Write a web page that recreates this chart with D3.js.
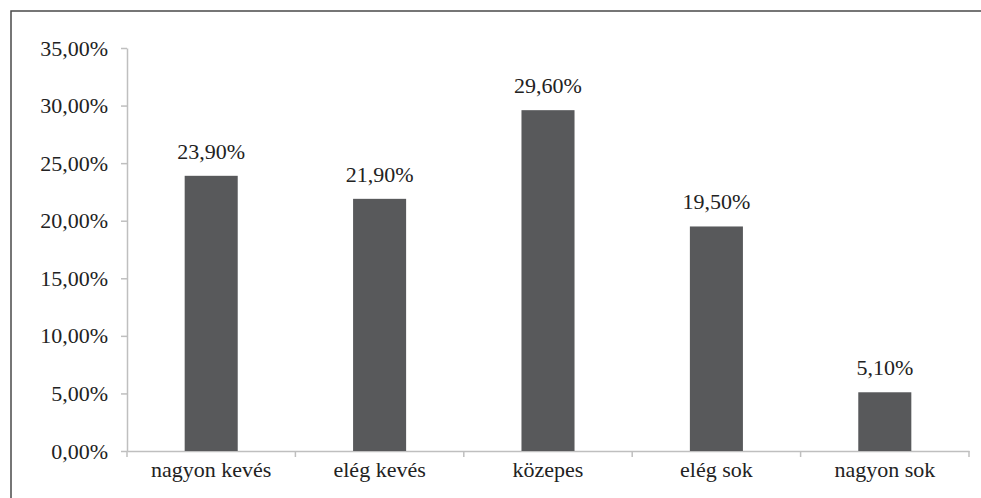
<!DOCTYPE html>
<html>
<head>
<meta charset="utf-8">
<script src="https://cdn.jsdelivr.net/npm/d3@7"></script>
</head>
<body style="margin:0">
<div class="chart"></div>
<script>
var categories = ['nagyon kevés', 'elég kevés', 'közepes', 'elég sok', 'nagyon sok'];
var values = [23.9, 21.9, 29.6, 19.5, 5.1];
var yTicks = [0, 5, 10, 15, 20, 25, 30, 35];

(function() {
  var width = 981, height = 498;
  var margin = {top: 48, right: 12, bottom: 47, left: 127};
  var fmt = function(v) { return v.toFixed(2).replace('.', ',') + '%'; };

  var svg = d3.select('.chart')
              .append('svg')
              .attr('width', width)
              .attr('height', height)
              .style('font-family', "'Liberation Serif'");

  // outer frame (runs off the right and bottom edges)
  svg.append('rect')
    .attr('x', 11).attr('y', 11)
    .attr('width', width).attr('height', height)
    .style('fill', 'none')
    .style('stroke', '#4a4a4a')
    .style('stroke-width', 1.5);

  var x = d3.scaleBand()
            .domain(categories)
            .range([margin.left, width - margin.right]);

  var y = d3.scaleLinear()
            .domain([0, 35])
            .range([height - margin.bottom, margin.top]);

  var barW = x.bandwidth() * 0.315;

  // y axis
  var yAxis = svg.append('g')
    .attr('transform', 'translate(' + margin.left + ',0)')
    .call(d3.axisLeft(y).tickValues(yTicks).tickFormat(fmt).tickSize(6).tickPadding(13).tickSizeOuter(0));

  // x axis
  var xAxis = svg.append('g')
    .attr('transform', 'translate(0,' + (height - margin.bottom) + ')')
    .call(d3.axisBottom(x).tickSize(0).tickPadding(10).tickSizeOuter(0));

  // tick marks between categories
  var bounds = categories.map(function(c) { return x(c); }).concat([x.range()[1]]);
  xAxis.selectAll('.sep').data(bounds)
    .enter().append('line')
    .attr('class', 'sep')
    .attr('x1', function(d) { return d; })
    .attr('x2', function(d) { return d; })
    .attr('y1', 0).attr('y2', 6);

  [yAxis, xAxis].forEach(function(g) {
    g.attr('font-family', null).attr('font-size', null);
    g.selectAll('path, line').style('stroke', '#bfbfbf').style('stroke-width', 1.5);
    g.selectAll('text')
      .style('font-family', "'Liberation Serif'")
      .style('font-size', '22px')
      .style('fill', '#222');
  });

  svg.selectAll('.bar').data(values)
    .enter().append('rect')
      .attr('class', 'bar')
      .attr('x', function(d, i) { return x(categories[i]) + (x.bandwidth() - barW) / 2; })
      .attr('y', function(d) { return y(d); })
      .attr('width', barW)
      .attr('height', function(d) { return y(0) - y(d); })
      .style('fill', '#58595b');

  svg.selectAll('.label').data(values)
    .enter().append('text')
      .attr('class', 'label')
      .attr('x', function(d, i) { return x(categories[i]) + x.bandwidth() / 2; })
      .attr('y', function(d) { return y(d) - 17; })
      .attr('text-anchor', 'middle')
      .style('font-family', "'Liberation Serif'")
      .style('font-size', '22px')
      .style('fill', '#222')
      .text(fmt);
}).call(this);
</script>
</body>
</html>
